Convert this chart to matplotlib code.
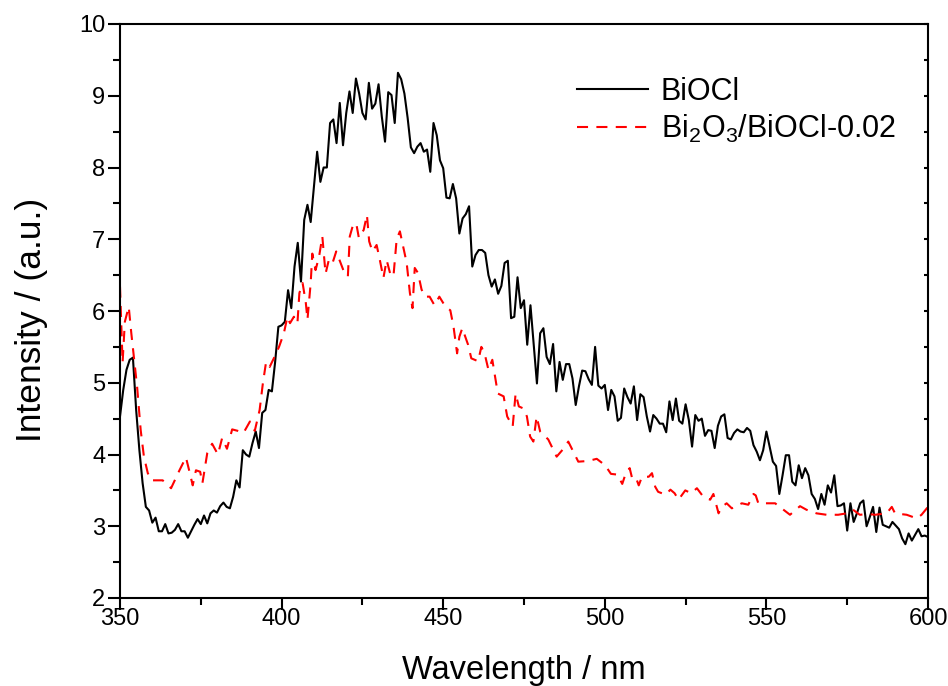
import numpy as np
import matplotlib
matplotlib.use("Agg")
import matplotlib.pyplot as plt

plt.rcParams['font.family'] = ['Liberation Sans', 'DejaVu Sans']
plt.rcParams['mathtext.fontset'] = 'custom'
plt.rcParams['mathtext.rm'] = 'Liberation Sans'
plt.rcParams['mathtext.default'] = 'regular'

# BiOCl, 1 nm steps from 350 to 600 nm
biocl_x = np.arange(350, 601)
biocl_y = [
    4.53, 4.90, 5.18, 5.32, 5.35, 4.62, 4.06, 3.60, 3.27, 3.22,
    3.05, 3.12, 2.93, 2.93, 3.03, 2.90, 2.91, 2.95, 3.03, 2.93,
    2.93, 2.84, 2.93, 3.02, 3.10, 3.03, 3.15, 3.04, 3.18, 3.22,
    3.19, 3.28, 3.33, 3.27, 3.25, 3.41, 3.64, 3.54, 4.06, 4.00,
    3.97, 4.16, 4.32, 4.09, 4.58, 4.62, 4.90, 4.88, 5.29, 5.78,
    5.80, 5.85, 6.29, 6.04, 6.62, 6.95, 6.41, 7.27, 7.48, 7.24,
    7.73, 8.22, 7.80, 8.00, 8.00, 8.62, 8.67, 8.34, 8.90, 8.31,
    8.76, 9.06, 8.76, 9.24, 9.03, 8.76, 8.67, 9.18, 8.82, 8.89,
    9.16, 8.71, 8.36, 9.05, 9.01, 8.62, 9.32, 9.23, 9.03, 8.69,
    8.28, 8.20, 8.29, 8.34, 8.22, 8.25, 7.94, 8.62, 8.45, 8.10,
    7.99, 7.58, 7.57, 7.77, 7.57, 7.08, 7.29, 7.35, 7.46, 6.62,
    6.78, 6.85, 6.85, 6.81, 6.50, 6.34, 6.44, 6.24, 6.35, 6.67,
    6.70, 5.90, 5.92, 6.47, 6.04, 6.15, 5.53, 6.08, 5.53, 4.99,
    5.69, 5.76, 5.36, 5.26, 5.54, 4.88, 5.29, 5.04, 5.26, 5.26,
    5.06, 4.69, 4.95, 5.17, 5.16, 5.05, 4.97, 5.50, 4.96, 4.92,
    4.97, 4.62, 4.90, 4.81, 4.47, 4.51, 4.92, 4.80, 4.71, 4.95,
    4.48, 4.84, 4.80, 4.53, 4.32, 4.55, 4.50, 4.43, 4.43, 4.31,
    4.74, 4.48, 4.78, 4.47, 4.43, 4.70, 4.48, 4.11, 4.55, 4.47,
    4.50, 4.26, 4.34, 4.33, 4.09, 4.40, 4.53, 4.56, 4.23, 4.21,
    4.30, 4.35, 4.32, 4.31, 4.37, 4.33, 4.13, 4.04, 3.92, 4.06,
    4.32, 4.11, 3.90, 3.84, 3.45, 3.71, 3.99, 3.99, 3.62, 3.57,
    3.85, 3.67, 3.81, 3.71, 3.45, 3.38, 3.24, 3.45, 3.30, 3.57,
    3.47, 3.71, 3.28, 3.29, 3.32, 2.94, 3.32, 3.06, 3.18, 3.32,
    3.36, 3.00, 3.13, 3.27, 2.92, 3.26, 3.02, 3.00, 2.98, 3.06,
    3.01, 2.96, 2.83, 2.75, 2.90, 2.80, 2.88, 2.96, 2.86, 2.87,
    2.85,
]

# Bi2O3/BiOCl-0.02
comp_x = [350.0, 350.8, 351.5, 352.7, 353.5, 354.3, 355.3, 356.4, 357.4, 358.6,
          359.7, 363.2, 365.8, 368.4, 370.4, 371.5, 372.5, 373.5, 374.8, 375.5,
          377.0, 378.5, 380.3, 381.6, 383.1, 384.7, 386.4, 388.2, 390.2, 391.7,
          393.2, 394.2, 395.2, 396.3, 397.8, 399.2, 400.7, 401.8, 402.6, 403.8,
          404.9, 405.5, 406.5, 407.5, 408.0, 409.0, 409.5, 410.5, 411.6, 412.6,
          413.6, 414.6, 415.7, 416.9, 418.1, 419.1, 420.5, 421.1, 422.1, 423.1,
          423.9, 425.4, 426.4, 427.1, 428.1, 429.4, 430.4, 431.5, 432.5, 433.6,
          434.6, 435.6, 436.6, 437.6, 438.7, 439.7, 440.5, 441.2, 442.2, 443.3,
          444.3, 445.8, 447.3, 448.8, 450.7, 452.2, 453.2, 454.3, 455.0, 455.9,
          457.7, 458.7, 460.8, 461.8, 462.8, 464.0, 465.2, 465.9, 466.9, 468.7,
          469.8, 471.5, 472.4, 473.4, 474.9, 475.9, 476.9, 477.9, 478.9, 480.0,
          482.5, 485.1, 487.2, 488.7, 491.8, 494.9, 497.5, 500.1, 501.9, 503.9,
          505.4, 506.5, 507.7, 508.5, 509.7, 510.5, 511.5, 513.6, 514.6, 515.6,
          516.5, 518.8, 520.3, 521.6, 522.8, 524.9, 526.7, 528.5, 530.5, 532.6,
          533.6, 534.2, 535.2, 536.2, 537.7, 539.3, 542.4, 544.4, 546.0, 546.7,
          547.5, 550.1, 552.7, 554.7, 557.3, 560.4, 562.4, 565.5, 568.6, 572.2,
          574.8, 576.8, 578.9, 581.5, 583.6, 587.2, 588.8, 589.8, 593.4, 596.5,
          598.0, 600.0]
comp_y = [6.34, 5.28, 5.85, 6.06, 5.69, 5.36, 4.94, 4.34, 3.97, 3.74,
          3.64, 3.64, 3.53, 3.78, 3.96, 3.76, 3.57, 3.78, 3.76, 3.60,
          4.02, 4.15, 4.00, 4.23, 4.08, 4.35, 4.33, 4.30, 4.46, 4.33,
          4.62, 4.99, 5.29, 5.22, 5.36, 5.50, 5.69, 5.92, 5.83, 5.92,
          5.83, 6.25, 6.39, 6.11, 5.88, 6.39, 6.80, 6.57, 6.76, 7.04,
          6.52, 6.71, 6.66, 6.83, 6.69, 6.57, 6.48, 7.04, 7.20, 7.22,
          7.02, 7.13, 7.34, 6.97, 6.83, 6.92, 6.71, 6.46, 6.71, 6.52,
          6.48, 7.00, 7.11, 6.90, 6.67, 6.25, 6.04, 6.60, 6.53, 6.30,
          6.20, 6.20, 6.08, 6.20, 6.06, 6.01, 5.78, 5.41, 5.64, 5.76,
          5.53, 5.34, 5.30, 5.50, 5.41, 5.18, 5.32, 5.13, 4.85, 4.81,
          4.53, 4.39, 4.85, 4.67, 4.64, 4.53, 4.25, 4.18, 4.53, 4.32,
          4.21, 3.97, 4.08, 4.18, 3.90, 3.91, 3.94, 3.85, 3.73, 3.72,
          3.59, 3.74, 3.81, 3.66, 3.67, 3.57, 3.69, 3.69, 3.74, 3.55,
          3.48, 3.44, 3.51, 3.46, 3.37, 3.50, 3.46, 3.53, 3.41, 3.37,
          3.45, 3.35, 3.18, 3.27, 3.32, 3.25, 3.32, 3.30, 3.45, 3.43,
          3.32, 3.32, 3.32, 3.25, 3.16, 3.28, 3.23, 3.18, 3.16, 3.16,
          3.18, 3.23, 3.16, 3.17, 3.16, 3.18, 3.27, 3.18, 3.16, 3.11,
          3.16, 3.27]

x_ticks = [350, 400, 450, 500, 550, 600]
y_ticks = [2, 3, 4, 5, 6, 7, 8, 9, 10]
series_labels = ['BiOCl', r'Bi$_2$O$_3$/BiOCl-0.02']
x_label = 'Wavelength / nm'
y_label = 'Intensity / (a.u.)'

fig = plt.figure(figsize=(9.48, 6.86), dpi=100)
ax = fig.add_axes([120/948, 1-598/686, 808/948, 574/686])

ax.plot(biocl_x, biocl_y, color='black', lw=1.5, label=series_labels[0])
ax.plot(comp_x, comp_y, color='#ff0000', lw=1.5, linestyle=(0, (5.3, 4.0)),
        label=series_labels[1])

ax.set_xlim(350, 600)
ax.set_ylim(2, 10)
ax.set_xticks(x_ticks)
ax.set_yticks(y_ticks)
ax.set_xticks(np.arange(350, 601, 25), minor=True)
ax.set_yticks(np.arange(2, 10.01, 0.5), minor=True)

for s in ax.spines.values():
    s.set_linewidth(1.5)

ax.tick_params(axis='both', which='major', direction='out', length=8.5, width=1.5,
               labelsize=17)
ax.tick_params(axis='x', which='major', pad=-1.5)
ax.tick_params(axis='y', which='major', pad=2)
ax.tick_params(axis='both', which='minor', direction='out', length=5, width=1.5)
ax.tick_params(axis='y', which='both', right=True, labelright=False)
ax.tick_params(axis='x', which='both', top=False)

# right-side ticks: short inward
for t in ax.yaxis.get_major_ticks() + ax.yaxis.get_minor_ticks():
    t.tick2line.set_markersize(3)
    t.tick2line.set_marker(matplotlib.lines.TICKLEFT)

ax.set_xlabel(x_label, fontsize=23.5)
ax.set_ylabel(y_label, fontsize=25.5)
ax.xaxis.set_label_coords(0.5, (598 - 655) / 574)
ax.yaxis.set_label_coords((48 - 120) / 808, (598 - 320) / 574)

leg = ax.legend(loc='upper left', bbox_to_anchor=(0.566, 0.908), frameon=False,
                fontsize=22, handlelength=2.3, handletextpad=0.43,
                labelspacing=0.2, borderpad=0, borderaxespad=0)

fig.savefig('out.png', dpi=100)
